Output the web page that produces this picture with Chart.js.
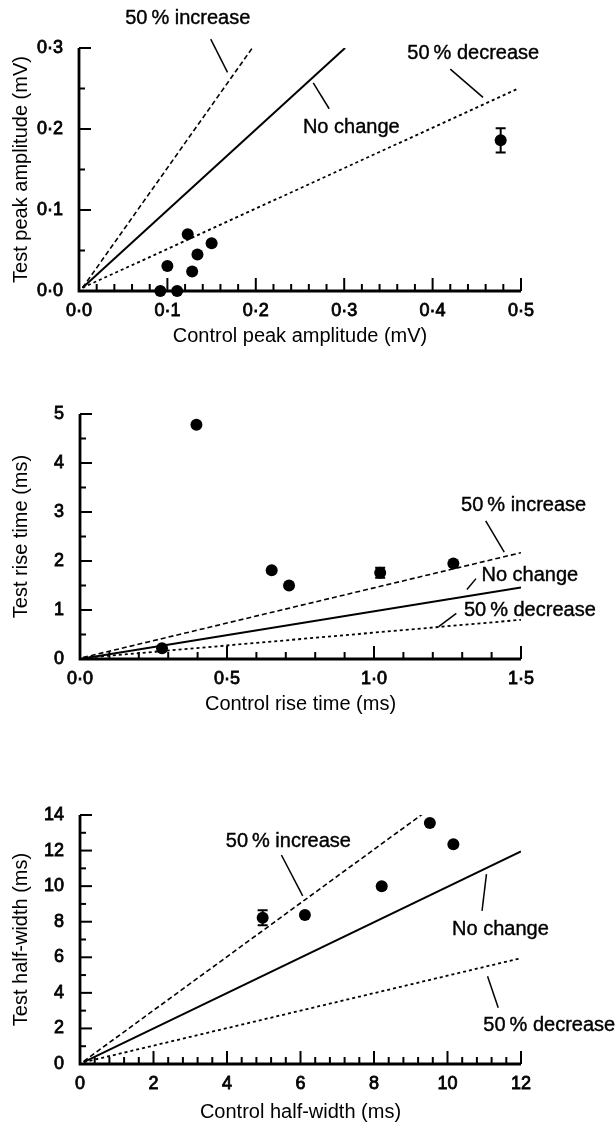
<!DOCTYPE html>
<html>
<head>
<meta charset="utf-8">
<script src="https://cdn.jsdelivr.net/npm/chart.js@4.4.1/dist/chart.umd.min.js"></script>
<style>
  html, body { margin: 0; padding: 0; background: #fff; }
  body { width: 616px; height: 1123px; position: relative; overflow: hidden; }
  .box { position: absolute; left: 0; width: 616px; }
</style>
</head>
<body>
<div class="box" style="top:0;height:350px"><canvas id="ampChart"></canvas></div>
<div class="box" style="top:350px;height:368px"><canvas id="riseChart"></canvas></div>
<div class="box" style="top:718px;height:408px"><canvas id="widthChart"></canvas></div>

<script>
const FONT = "'Liberation Sans', Arial, Helvetica, sans-serif";

// peak amplitude (mV)
const ampControl = [0.092, 0.111, 0.100, 0.123, 0.128, 0.134, 0.150, 0.477];
const ampTest = [0.0, 0.0, 0.031, 0.070, 0.024, 0.045, 0.059, 0.186];
const ampErr = [0, 0, 0, 0, 0, 0, 0, 0.015];
const ampIncrease = [[0.004, 0.004], [0.196, 0.300]];
const ampNoChange = [[0.004, 0.004], [0.301, 0.300]];
const ampDecrease = [[0.004, 0.004], [0.495, 0.249]];

// rise time (ms)
const riseControl = [0.279, 0.396, 0.652, 0.711, 1.021, 1.270];
const riseTest = [0.22, 4.78, 1.81, 1.50, 1.76, 1.95];
const riseErr = [0, 0, 0, 0, 0.1, 0];
const riseIncrease = [[0.01, 0.03], [1.5, 2.17]];
const riseNoChange = [[0.01, 0.01], [1.5, 1.46]];
const riseDecrease = [[0.01, 0.02], [1.5, 0.80]];

// half-width (ms)
const widthControl = [4.97, 6.12, 8.21, 9.52, 10.16];
const widthTest = [8.22, 8.38, 10.0, 13.55, 12.35];
const widthErr = [0.42, 0, 0, 0, 0];
const widthIncrease = [[0.1, 0.15], [9.35, 14.1]];
const widthNoChange = [[0.1, 0.1], [12, 11.95]];
const widthDecrease = [[0.1, 0.1], [12, 5.95]];

function pts(xs, ys) {
    return xs.map((x, i) => ({ x: x, y: ys[i] }));
}
function seg(s) {
    return s.map(p => ({ x: p[0], y: p[1] }));
}
function isMajor(v, major) {
    const r = v / major;
    return Math.abs(r - Math.round(r)) < 1e-6;
}

// axes drawn like the paper figure: inward ticks, long at majors
const paperAxes = {
    id: "paperAxes",
    afterDraw(chart, args, opts) {
        const ctx = chart.ctx;
        const { left, right, top, bottom } = chart.chartArea;
        const xs = chart.scales.x, ys = chart.scales.y;
        ctx.save();
        ctx.strokeStyle = "#000";
        ctx.lineCap = "butt";
        ctx.lineWidth = 2.8;
        ctx.beginPath();
        ctx.moveTo(left, top);
        ctx.lineTo(left, bottom);
        ctx.lineTo(right, bottom);
        ctx.stroke();

        ctx.lineWidth = 2;
        xs.ticks.forEach(t => {
            const px = xs.getPixelForValue(t.value);
            const len = isMajor(t.value, opts.xMajor) ? 13 : 7;
            ctx.beginPath();
            ctx.moveTo(px, bottom);
            ctx.lineTo(px, bottom - len);
            ctx.stroke();
        });
        ys.ticks.forEach(t => {
            const py = ys.getPixelForValue(t.value);
            const len = isMajor(t.value, opts.yMajor) ? 12 : 6;
            ctx.beginPath();
            ctx.moveTo(left, py);
            ctx.lineTo(left + len, py);
            ctx.stroke();
        });

        // error bars
        chart.data.datasets.forEach(ds => {
            if (!ds.errors) return;
            ds.data.forEach((p, j) => {
                const e = ds.errors[j];
                if (!e) return;
                const px = xs.getPixelForValue(p.x);
                const y1 = ys.getPixelForValue(p.y + e);
                const y2 = ys.getPixelForValue(p.y - e);
                ctx.lineWidth = 2;
                ctx.beginPath();
                ctx.moveTo(px, y1); ctx.lineTo(px, y2);
                ctx.moveTo(px - 5, y1); ctx.lineTo(px + 5, y1);
                ctx.moveTo(px - 5, y2); ctx.lineTo(px + 5, y2);
                ctx.stroke();
            });
        });

        // labels of the reference lines
        ctx.font = "20px " + FONT;
        ctx.fillStyle = "#000";
        ctx.textAlign = "center";
        ctx.textBaseline = "middle";
        opts.notes.forEach(n => {
            const tx = xs.getPixelForValue(n.at[0]), ty = ys.getPixelForValue(n.at[1]);
            ctx.lineWidth = 0.4;
            ctx.fillText(n.text, tx, ty);
            ctx.strokeText(n.text, tx, ty);
            ctx.lineWidth = 1.5;
            ctx.beginPath();
            ctx.moveTo(xs.getPixelForValue(n.from[0]), ys.getPixelForValue(n.from[1]));
            ctx.lineTo(xs.getPixelForValue(n.to[0]), ys.getPixelForValue(n.to[1]));
            ctx.stroke();
        });
        ctx.restore();
    }
};

function axis(a, isX, boxSize) {
    return {
        type: "linear",
        min: a.min,
        max: a.max,
        border: { display: false },
        grid: { display: false, drawTicks: false },
        ticks: {
            stepSize: a.step,
            maxTicksLimit: 200,
            autoSkip: false,
            maxRotation: 0,
            padding: isX ? 9 : 16,
            color: "#000",
            textStrokeColor: "#000",
            textStrokeWidth: 0.8,
            font: { family: FONT, size: 18 },
            callback: v => isMajor(v, a.major) ? v.toFixed(a.digits).replace(".", "·") : ""
        },
        title: {
            display: true,
            text: a.title,
            color: "#000",
            font: { family: FONT, size: 20 },
            padding: isX ? { top: 0, bottom: 2 } : { top: 9, bottom: 0 }
        },
        afterFit: s => {
            if (isX) s.height = boxSize; else s.width = boxSize;
        }
    };
}

function makeChart(id, c) {
    const datasets = [
        { data: seg(c.increase), showLine: true, borderColor: "#000", borderWidth: 1.6, borderDash: [5, 3], pointRadius: 0 },
        { data: seg(c.noChange), showLine: true, borderColor: "#000", borderWidth: 2, pointRadius: 0 },
        { data: seg(c.decrease), showLine: true, borderColor: "#000", borderWidth: 1.8, borderDash: [3, 3], pointRadius: 0 },
        { data: pts(c.xs, c.ys), errors: c.errs, backgroundColor: "#000", borderColor: "#000", pointRadius: 6, borderWidth: 0, clip: false }
    ];
    return new Chart(document.getElementById(id), {
        type: "scatter",
        data: { datasets: datasets },
        plugins: [paperAxes],
        options: {
            responsive: true,
            maintainAspectRatio: false,
            animation: false,
            layout: { padding: { left: 0, right: 95, top: c.padTop, bottom: 0 } },
            plugins: {
                legend: { display: false },
                tooltip: { enabled: false },
                paperAxes: { xMajor: c.x.major, yMajor: c.y.major, notes: c.notes }
            },
            scales: {
                x: axis(c.x, true, c.xBox),
                y: axis(c.y, false, c.yBox)
            }
        }
    });
}

makeChart("ampChart", {
    xs: ampControl, ys: ampTest, errs: ampErr,
    increase: ampIncrease, noChange: ampNoChange, decrease: ampDecrease,
    x: { min: 0, max: 0.5, step: 0.02, major: 0.1, digits: 1, title: "Control peak amplitude (mV)" },
    y: { min: 0, max: 0.3, step: 0.05, major: 0.1, digits: 1, title: "Test peak amplitude (mV)" },
    padTop: 48, xBox: 59, yBox: 79,
    notes: [
        { text: "50\u2009% increase", at: [0.123, 0.337], from: [0.149, 0.311], to: [0.168, 0.270] },
        { text: "No change", at: [0.308, 0.202], from: [0.265, 0.257], to: [0.283, 0.225] },
        { text: "50\u2009% decrease", at: [0.446, 0.293], from: [0.420, 0.274], to: [0.457, 0.239] }
    ]
});

makeChart("riseChart", {
    xs: riseControl, ys: riseTest, errs: riseErr,
    increase: riseIncrease, noChange: riseNoChange, decrease: riseDecrease,
    x: { min: 0, max: 1.5, step: 0.1, major: 0.5, digits: 1, title: "Control rise time (ms)" },
    y: { min: 0, max: 5, step: 0.5, major: 1, digits: 0, title: "Test rise time (ms)" },
    padTop: 64, xBox: 59, yBox: 80,
    notes: [
        { text: "50\u2009% increase", at: [1.509, 3.13], from: [1.38, 2.82], to: [1.443, 2.18] },
        { text: "No change", at: [1.53, 1.71], from: [1.347, 1.64], to: [1.316, 1.42] },
        { text: "50\u2009% decrease", at: [1.53, 0.98], from: [1.28, 0.93], to: [1.22, 0.66] }
    ]
});

makeChart("widthChart", {
    xs: widthControl, ys: widthTest, errs: widthErr,
    increase: widthIncrease, noChange: widthNoChange, decrease: widthDecrease,
    x: { min: 0, max: 12, step: 0.4, major: 2, digits: 0, title: "Control half-width (ms)" },
    y: { min: 0, max: 14, step: 1, major: 2, digits: 0, title: "Test half-width (ms)" },
    padTop: 97, xBox: 62, yBox: 80,
    notes: [
        { text: "50\u2009% increase", at: [5.67, 12.5], from: [5.48, 11.75], to: [6.06, 9.45] },
        { text: "No change", at: [11.44, 7.58], from: [11.06, 10.68], to: [10.94, 8.61] },
        { text: "50\u2009% decrease", at: [12.77, 2.16], from: [11.09, 4.94], to: [11.38, 3.16] }
    ]
});
</script>
</body>
</html>
